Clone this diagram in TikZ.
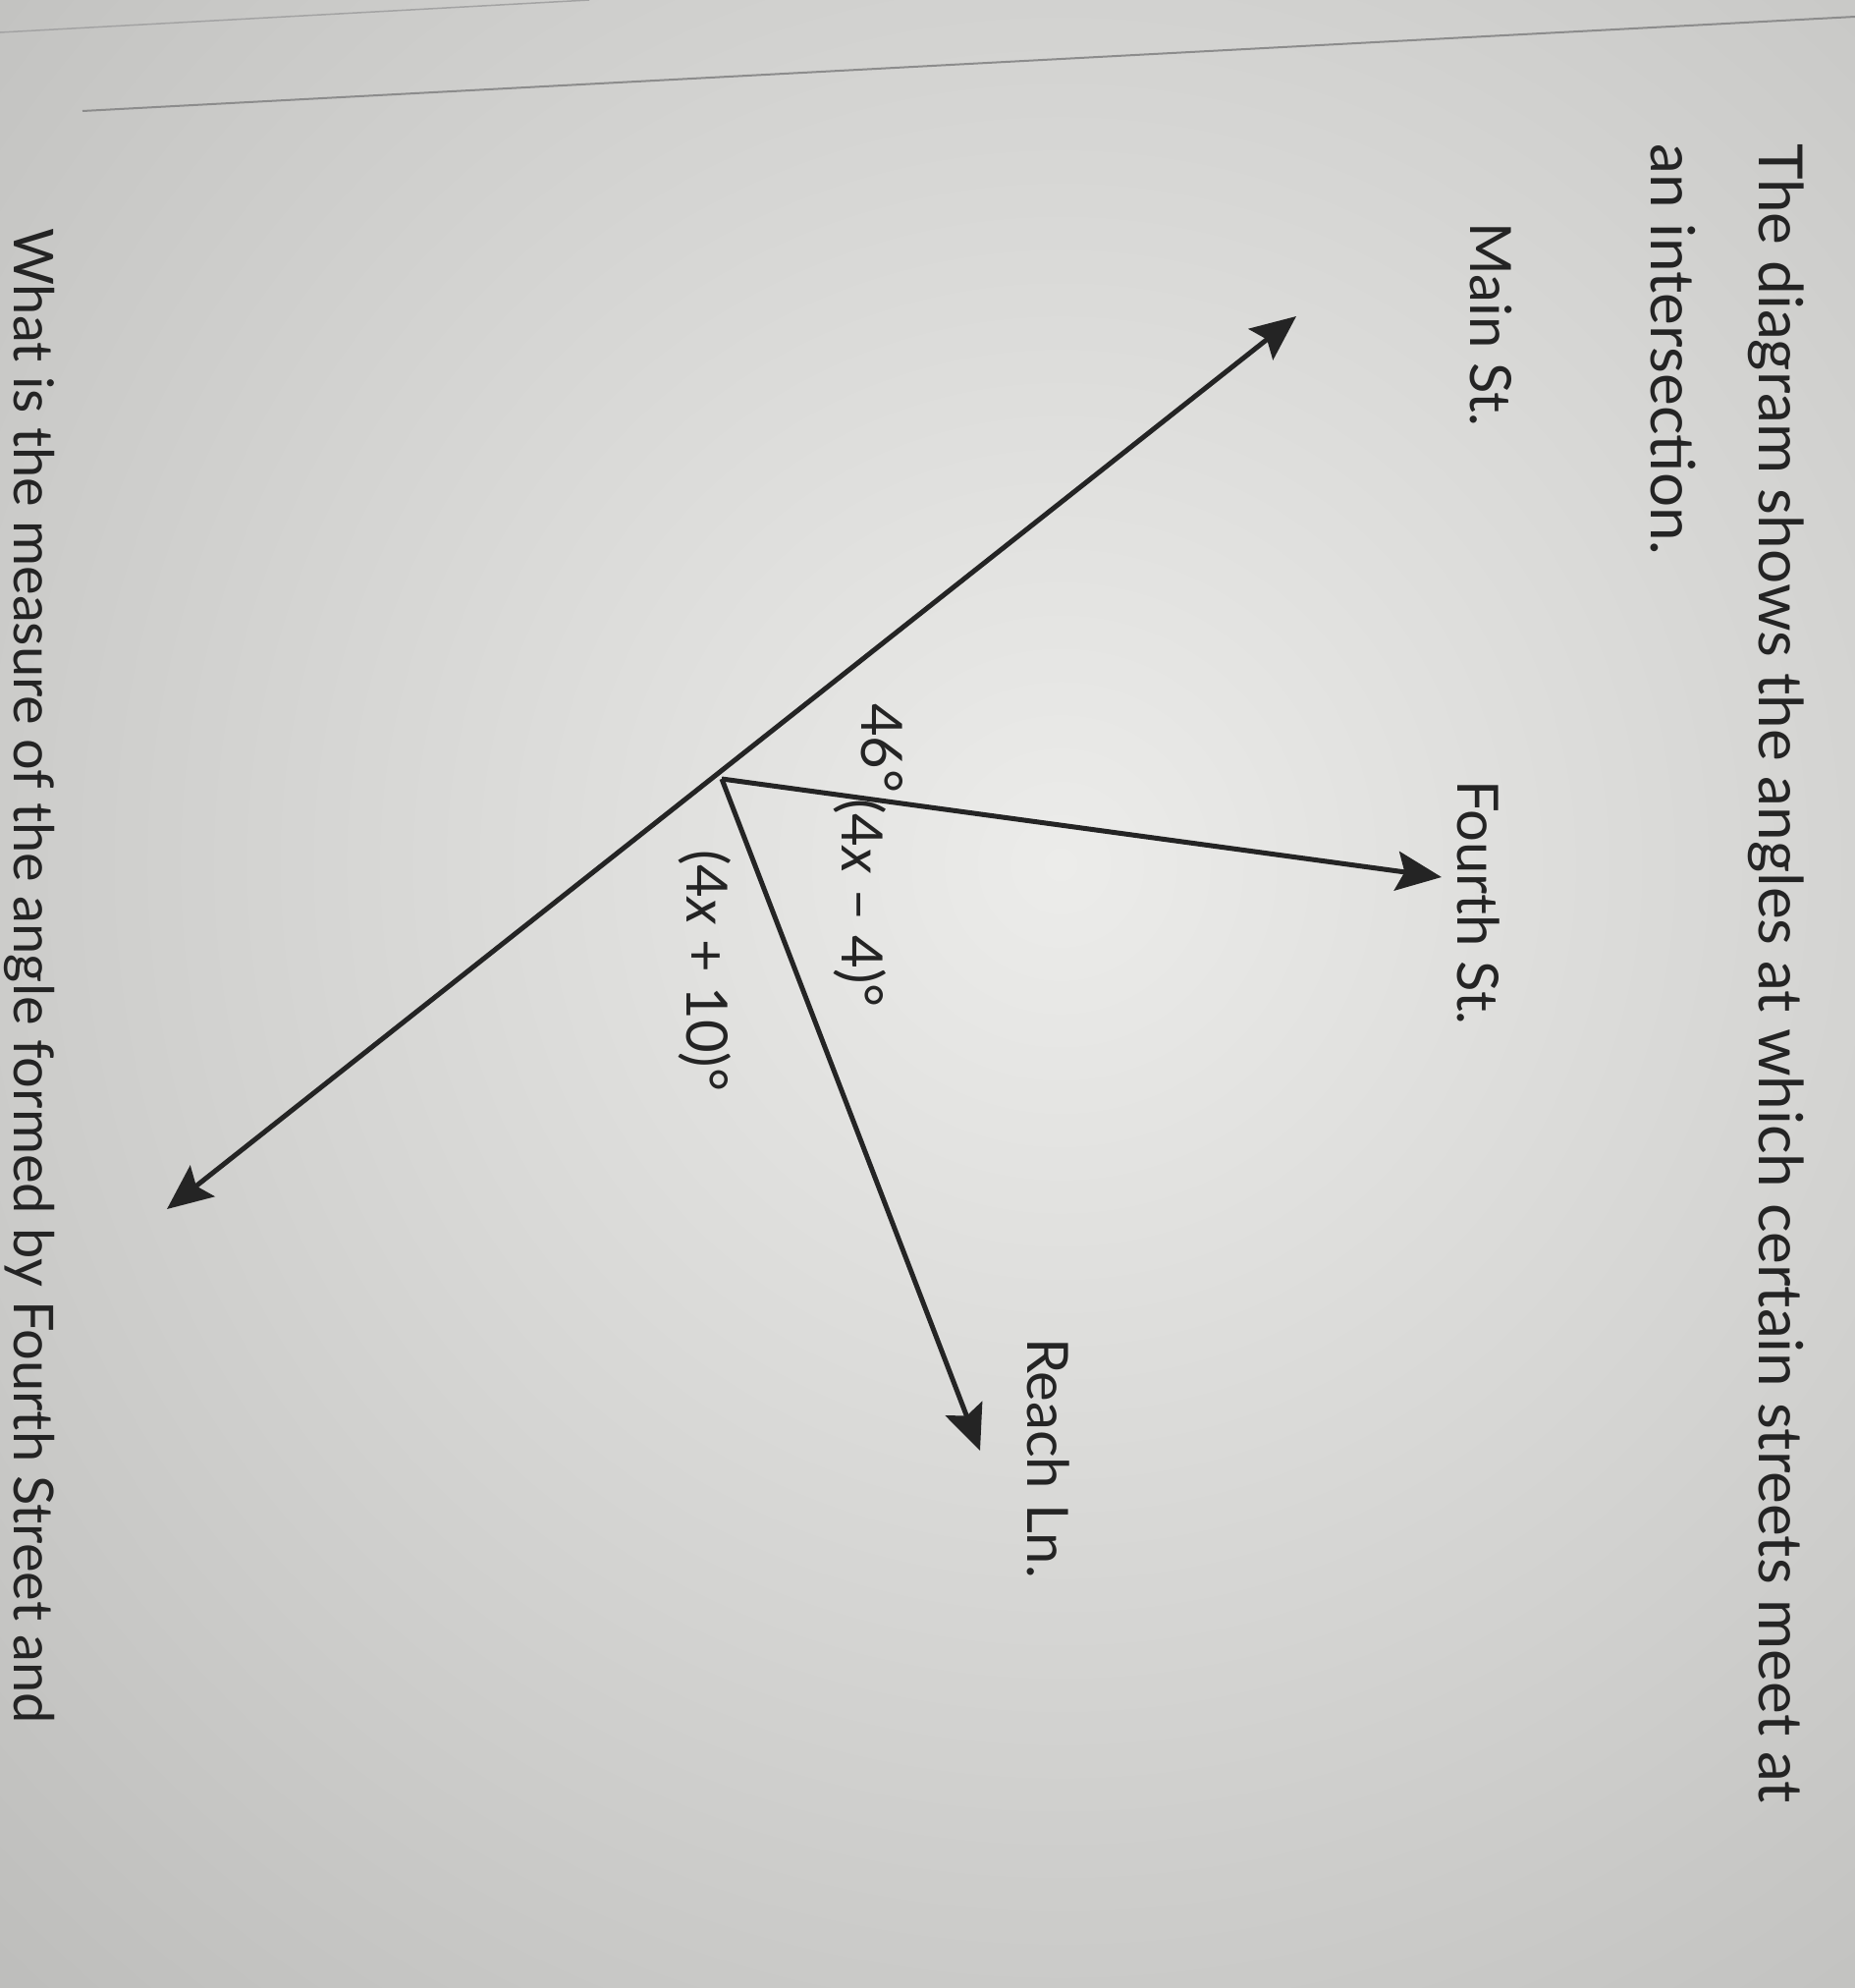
\documentclass[tikz,border=0pt]{standalone}
\usepackage{fontspec}
\setmainfont{Lato}
\usetikzlibrary{arrows.meta}
\definecolor{bgedge}{RGB}{168,168,166}
\definecolor{bgcenter}{RGB}{236,236,234}
\definecolor{ink}{RGB}{36,36,36}
\definecolor{faint}{RGB}{140,140,140}
\begin{document}
\begin{tikzpicture}[x=1pt,y=-1pt,
  txt/.style={rotate=-90, anchor=mid west, inner sep=0pt, font=\fontsize{58}{70}\selectfont, text=ink},
  bigtxt/.style={txt, font=\fontsize{62}{74}\selectfont},
  street/.style={line width=5pt, draw=ink, -{Stealth[length=46pt,width=40pt,inset=8pt]}},
  mainstreet/.style={line width=5pt, draw=ink, {Stealth[length=46pt,width=40pt,inset=8pt]}-{Stealth[length=46pt,width=40pt,inset=8pt]}}]
\useasboundingbox (0,0) rectangle (1889,2024);
\clip (0,0) rectangle (1889,2024);
\fill[bgedge] (0,0) rectangle (1889,2024);
\shade[inner color=bgcenter, outer color=bgedge] (1080,880) circle (2300);
\draw[faint, line width=2pt] (84,113) -- (1889,17);
\draw[faint!80, line width=1.5pt] (0,33) -- (600,0);
% geometry
\coordinate (O) at (735,793);
\coordinate (mainup) at (1320,322);
\coordinate (mainlo) at (170,1231);
\coordinate (fourth) at (1468,893);
\coordinate (reach) at (998,1477);
\draw[mainstreet] (mainlo) -- (mainup);
\draw[street] (O) -- (fourth);
\draw[street] (O) -- (reach);
% texts
\node[bigtxt] (q1) at (1794,146) {The diagram shows the angles at which certain streets meet at};
\node[bigtxt] (q2) at (1684,146) {an intersection.};
\node[txt] (lmain) at (1500,226) {Main St.};
\node[txt] (lfourth) at (1487,794) {Fourth St.};
\node[txt] (lreach) at (1049,1362) {Reach Ln.};
\node[txt] (a46) at (880,716) {46°};
\node[txt] (a4m) at (860,813) {(4\textit{x} – 4)°};
\node[txt] (a4p) at (702,865) {(4\textit{x} + 10)°};
\node[txt, font=\fontsize{56}{68}\selectfont] (q3) at (17,232) {What is the measure of the angle formed by Fourth Street and};
\end{tikzpicture}
\end{document}
